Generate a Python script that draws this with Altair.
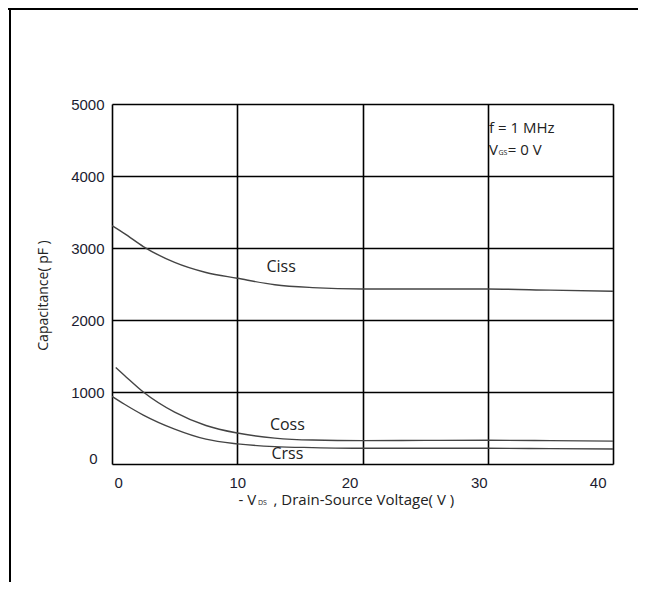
import altair as alt
import pandas as pd

# ---- data ----
ciss_v = [0, 1, 2.5, 5, 7.5, 10, 13, 16, 20, 25, 30, 35, 40]
ciss_c = [3310, 3200, 3020, 2800, 2660, 2580, 2490, 2450, 2430, 2430, 2430, 2415, 2400]

coss_v = [0.3, 1, 2.5, 5, 7.5, 10, 13, 16, 20, 25, 30, 35, 40]
coss_c = [1340, 1230, 1000, 720, 535, 430, 360, 333, 325, 328, 330, 325, 318]

crss_v = [0, 1, 2.5, 5, 7.5, 10, 13, 16, 20, 25, 30, 35, 40]
crss_c = [940, 830, 680, 485, 345, 280, 242, 228, 218, 218, 218, 213, 208]

x_ticks = [0, 10, 20, 30, 40]
y_ticks = [0, 1000, 2000, 3000, 4000, 5000]

curve_names = ["Ciss", "Coss", "Crss"]
label_v = [13.5, 14.0, 14.0]
label_c = [2736, 542, 140]

rows = []
for name, vs, cs in zip(curve_names, [ciss_v, coss_v, crss_v], [ciss_c, coss_c, crss_c]):
    for v, c in zip(vs, cs):
        rows.append({"curve": name, "V": v, "C": c})
df = pd.DataFrame(rows)
lab = pd.DataFrame({"curve": curve_names, "V": label_v, "C": label_c})

TXT = "Open Sans"
TICKF = "Liberation Sans"

xscale = alt.Scale(domain=[0, 40], nice=False, zero=False)
yscale = alt.Scale(domain=[0, 5000], nice=False)

xaxis = alt.Axis(
    values=x_ticks, grid=True, gridColor="black", gridWidth=1.6, gridOpacity=1,
    domain=False, ticks=False, title=None, format="d",
    labelFont=TICKF, labelFontSize=15, labelColor="#1c1c30", labelPadding=11,
    labelOffset={"condition": [
        {"test": "datum.value == 0", "value": 2},
        {"test": "datum.value == 20", "value": -13},
        {"test": "datum.value == 30", "value": -9},
        {"test": "datum.value == 40", "value": -7},
    ], "value": 0},
)
yaxis = alt.Axis(
    values=y_ticks, grid=True, gridColor="black", gridWidth=1.6, gridOpacity=1,
    domain=False, ticks=False, format="d",
    title="Capacitance( pF )", titleFont=TXT, titleFontSize=14, titleFontWeight="normal",
    titleColor="#222", titleAngle=-90, titleX=-69, titleY=191,
    titleAlign="center", titleBaseline="middle",
    labelFont=TICKF, labelFontSize=15, labelColor="#1c1c30",
    labelPadding={"condition": {"test": "datum.value == 0", "value": 15}, "value": 8},
    labelOffset={"condition": {"test": "datum.value == 0", "value": -6}, "value": 0},
)

base = alt.Chart(df)
lines = base.mark_line(color="#444444", strokeWidth=1.4, interpolate="monotone", clip=True).encode(
    x=alt.X("V:Q", scale=xscale, axis=xaxis),
    y=alt.Y("C:Q", scale=yscale, axis=yaxis),
    detail="curve:N",
)

labels = alt.Chart(lab).mark_text(font=TXT, fontSize=16, color="#222", align="center", baseline="middle").encode(
    x=alt.X("V:Q", scale=xscale),
    y=alt.Y("C:Q", scale=yscale),
    text="curve:N",
)

ann_main = pd.DataFrame({"t": ["f = 1 MHz", "V", "= 0 V"], "V": [30.1, 30.1, 31.6], "C": [4665, 4355, 4355]})
ann_sub = pd.DataFrame({"t": ["GS"], "V": [30.85], "C": [4315]})
ann1 = alt.Chart(ann_main).mark_text(font=TXT, fontSize=15, color="#222", align="left", baseline="middle").encode(
    x=alt.X("V:Q", scale=xscale), y=alt.Y("C:Q", scale=yscale), text="t:N")
ann2 = alt.Chart(ann_sub).mark_text(font=TXT, fontSize=7, color="#222", align="left", baseline="middle").encode(
    x=alt.X("V:Q", scale=xscale), y=alt.Y("C:Q", scale=yscale), text="t:N")

xt_main = pd.DataFrame({"t": ["- V", ", Drain-Source Voltage( V )"], "V": [10.1, 12.9]})
xt_sub = pd.DataFrame({"t": ["DS"], "V": [11.65]})
xt1 = alt.Chart(xt_main).mark_text(font=TXT, fontSize=15, color="#222", align="left", baseline="middle").encode(
    x=alt.X("V:Q", scale=xscale), y=alt.value(396), text="t:N")
xt2 = alt.Chart(xt_sub).mark_text(font=TXT, fontSize=7, color="#222", align="left", baseline="middle").encode(
    x=alt.X("V:Q", scale=xscale), y=alt.value(399), text="t:N")

one = pd.DataFrame({"k": [0]})
frame_top = alt.Chart(one).mark_rule(color="black", strokeWidth=2).encode(
    x=alt.value(-104), x2=alt.value(526), y=alt.value(-95))
frame_left = alt.Chart(one).mark_rule(color="black", strokeWidth=2).encode(
    x=alt.value(-102), y=alt.value(-96), y2=alt.value(478))

chart = alt.layer(lines, labels, ann1, ann2, xt1, xt2, frame_top, frame_left).properties(
    width=501, height=360,
    autosize=alt.AutoSizeParams(type="none"),
    padding={"left": 104, "top": 96, "right": 25, "bottom": 118},
).configure_view(stroke="black", strokeWidth=1.6).configure(background="white")

chart.save("out.html", embed_options={"renderer": "svg", "actions": False})
